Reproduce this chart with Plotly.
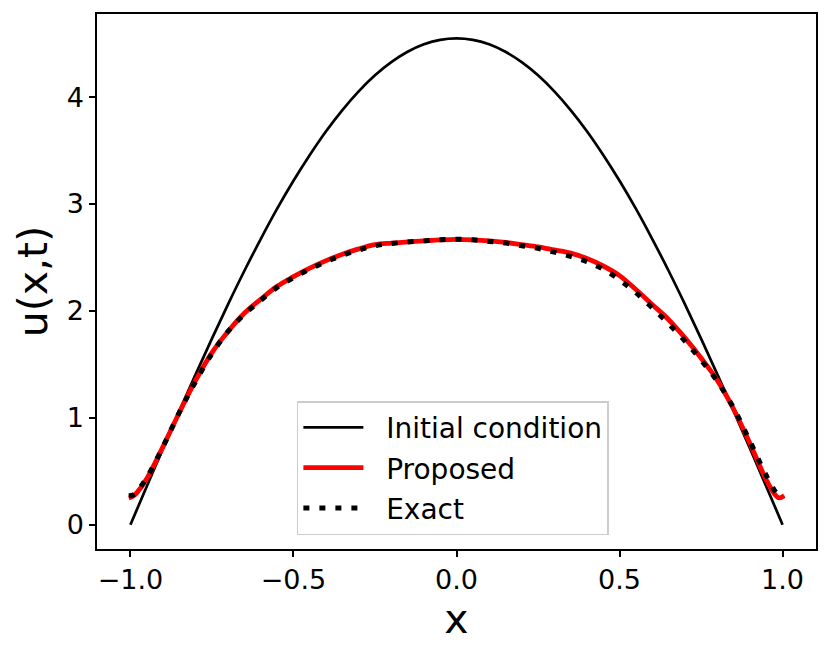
import plotly.graph_objects as go


# values
X_INIT = [-1.0, -0.95, -0.9, -0.85, -0.8, -0.75, -0.7, -0.65, -0.6, -0.55, -0.5,
          -0.45, -0.4, -0.35, -0.3, -0.25, -0.2, -0.15, -0.1, -0.05, 0.0,
          0.05, 0.1, 0.15, 0.2, 0.25, 0.3, 0.35, 0.4, 0.45, 0.5,
          0.55, 0.6, 0.65, 0.7, 0.75, 0.8, 0.85, 0.9, 0.95, 1.0]
U_INIT = [0.0, 0.357, 0.712, 1.062, 1.406, 1.741, 2.066, 2.378, 2.674, 2.956, 3.217,
          3.459, 3.681, 3.879, 4.054, 4.204, 4.327, 4.424, 4.494, 4.536, 4.55,
          4.536, 4.494, 4.424, 4.327, 4.204, 4.054, 3.879, 3.681, 3.459, 3.217,
          2.956, 2.674, 2.378, 2.066, 1.741, 1.406, 1.062, 0.712, 0.357, 0.0]

X_SOL = [-1.005, -0.99, -0.98, -0.95, -0.9, -0.85, -0.8, -0.75, -0.7, -0.65, -0.6,
         -0.55, -0.5, -0.45, -0.4, -0.35, -0.3, -0.25, -0.2, -0.15, -0.1,
         -0.05, 0.0, 0.05, 0.1, 0.15, 0.2, 0.25, 0.3, 0.35, 0.4,
         0.45, 0.5, 0.55, 0.6, 0.65, 0.7, 0.75, 0.8, 0.85, 0.9,
         0.95, 0.98, 0.99, 1.005]
U_PROPOSED = [0.25, 0.27, 0.30, 0.43, 0.73, 1.05, 1.35, 1.61, 1.81, 1.98, 2.11,
              2.23, 2.32, 2.40, 2.47, 2.53, 2.58, 2.62, 2.635, 2.645, 2.655,
              2.665, 2.67, 2.665, 2.655, 2.64, 2.62, 2.60, 2.57, 2.54, 2.49,
              2.42, 2.33, 2.20, 2.06, 1.92, 1.75, 1.56, 1.35, 1.08, 0.76,
              0.42, 0.27, 0.25, 0.27]
U_EXACT = [0.27, 0.28, 0.31, 0.44, 0.73, 1.05, 1.34, 1.60, 1.81, 1.97, 2.10,
           2.22, 2.31, 2.39, 2.46, 2.52, 2.57, 2.61, 2.63, 2.645, 2.655,
           2.665, 2.67, 2.665, 2.65, 2.635, 2.61, 2.585, 2.55, 2.51, 2.46,
           2.39, 2.29, 2.17, 2.03, 1.88, 1.72, 1.54, 1.34, 1.09, 0.78,
           0.46, 0.30, 0.27, 0.27]

FONT = "DejaVu Sans"
GAP = "\u00a0\u00a0"  # pushes legend text away from the handle, like matplotlib

# the page body adds an 8px margin, so the figure is 8px smaller than the window
FIG_W, FIG_H = 822, 648


def make_fig():
    fig = go.Figure()
    fig.add_trace(go.Scatter(x=X_INIT, y=U_INIT, name=GAP + "Initial condition", mode="lines",
                             line=dict(color="black", width=2.7, shape="spline", smoothing=1.0),
                             legendgroup="a"))
    fig.add_trace(go.Scatter(x=X_SOL, y=U_PROPOSED, name=GAP + "Proposed", mode="lines",
                             line=dict(color="red", width=4.8, shape="spline"),
                             legendgroup="b"))
    fig.add_trace(go.Scatter(x=X_SOL, y=U_EXACT, name=GAP + "Exact", mode="lines",
                             line=dict(color="black", width=5, dash="6px,10px", shape="spline"),
                             legendgroup="c"))

    axis = dict(showline=True, mirror=True, linecolor="black", linewidth=1.5,
                ticks="outside", ticklen=6, tickwidth=1.5, tickcolor="black",
                showgrid=False, zeroline=False, automargin=False,
                tickfont=dict(family=FONT, size=27, color="black"))

    fig.update_xaxes(axis, range=[-1.1025, 1.1025], tickvals=[-1.0, -0.5, 0.0, 0.5, 1.0],
                     ticktext=["\u22121.0", "\u22120.5", "0.0", "0.5", "1.0"],
                     title=dict(text="x", font=dict(family=FONT, size=41, color="black"),
                                standoff=8))
    fig.update_yaxes(axis, range=[-0.2275, 4.7775], tickvals=[0, 1, 2, 3, 4],
                     title=dict(text="u(x,t)", font=dict(family=FONT, size=41, color="black"),
                                standoff=6))

    fig.update_layout(
        width=FIG_W, height=FIG_H,
        margin=dict(l=89, r=14, t=6, b=107),
        paper_bgcolor="white", plot_bgcolor="white",
        font=dict(family=FONT, color="black"),
        legend=dict(x=0.278, y=0.026, xanchor="left", yanchor="bottom",
                    bgcolor="rgba(255,255,255,0.8)", bordercolor="#cccccc", borderwidth=1.5,
                    font=dict(family=FONT, size=28, color="black"),
                    itemwidth=60, tracegroupgap=1),
        showlegend=True,
    )
    return fig


if __name__ == "__main__":
    fig = make_fig()
    fig.write_html("out.html")
